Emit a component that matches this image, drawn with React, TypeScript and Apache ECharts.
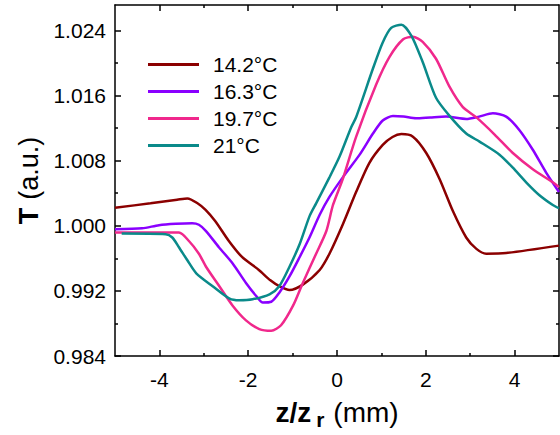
import React, { useEffect, useRef } from "react";
import * as echarts from "echarts";

const FONT = "'Liberation Sans', Arial, sans-serif";

const seriesNames = ["14.2°C", "16.3°C", "19.7°C", "21°C"];
const seriesColors = ["#8B0000", "#8A00FF", "#F0288C", "#0A8A8A"];

const x142 = [-5, -4.2, -3.6, -3.37, -3.15, -2.96, -2.74, -2.44, -2.14, -1.76, -1.5, -1.3, -1.07, -0.77, -0.39, -0.17, 0.13, 0.43, 0.73, 1.03, 1.25, 1.45, 1.71, 2.01, 2.31, 2.61, 2.91, 3.14, 3.36, 3.81, 5];
const y142 = [1.0022, 1.00276, 1.00319, 1.00335, 1.0028, 1.00195, 1.00055, 0.99816, 0.99617, 0.99457, 0.9933, 0.99258, 0.9921, 0.99277, 0.99457, 0.99657, 1.00016, 1.00414, 1.00773, 1.00993, 1.0109, 1.01125, 1.01093, 1.00893, 1.00574, 1.0018, 0.99856, 0.99716, 0.99657, 0.99665, 0.99756];

const x163 = [-5, -4.39, -4.01, -3.63, -3.26, -3.11, -2.95, -2.66, -2.35, -2.05, -1.82, -1.67, -1.48, -1.3, -1.07, -0.84, -0.62, -0.39, -0.17, 0.13, 0.51, 0.81, 1.03, 1.26, 1.5, 1.78, 2.1, 2.46, 2.91, 3.2, 3.51, 3.81, 4.11, 4.41, 4.71, 5];
const y163 = [0.99956, 0.99968, 1.00007, 1.00024, 1.00031, 1.00012, 0.99935, 0.99737, 0.99537, 0.99298, 0.99138, 0.99058, 0.99067, 0.99178, 0.99378, 0.99617, 0.99856, 1.00135, 1.00354, 1.00594, 1.00873, 1.01132, 1.01292, 1.01347, 1.0134, 1.0132, 1.0133, 1.0134, 1.01311, 1.0134, 1.0138, 1.0134, 1.01173, 1.00933, 1.00653, 1.00414];

const x197 = [-5, -3.56, -3.34, -3.11, -2.95, -2.65, -2.35, -2.05, -1.75, -1.48, -1.26, -0.99, -0.77, -0.47, -0.24, -0.09, 0.13, 0.43, 0.88, 1.18, 1.49, 1.71, 1.93, 2.23, 2.53, 2.83, 3.14, 3.55, 3.96, 4.41, 4.86, 5];
const y197 = [0.99916, 0.99916, 0.99816, 0.99657, 0.99497, 0.99258, 0.99019, 0.98839, 0.98732, 0.98711, 0.98779, 0.99019, 0.99298, 0.99657, 0.99936, 1.00255, 1.00574, 1.01092, 1.0173, 1.0207, 1.02289, 1.02321, 1.02257, 1.0205, 1.0171, 1.0146, 1.0133, 1.0112, 1.00893, 1.00694, 1.00534, 1.00474];

const x21 = [-4.85, -3.86, -3.71, -3.56, -3.37, -3.17, -2.8, -2.42, -2.2, -1.9, -1.52, -1.3, -1.07, -0.84, -0.62, -0.47, -0.17, 0.06, 0.32, 0.43, 0.81, 1.03, 1.22, 1.45, 1.68, 1.93, 2.23, 2.53, 2.91, 3.21, 3.66, 3.96, 4.26, 4.56, 4.86, 5];
const y21 = [0.99904, 0.99896, 0.99856, 0.99737, 0.99576, 0.99417, 0.99258, 0.99106, 0.99086, 0.99098, 0.99158, 0.99258, 0.99497, 0.99776, 1.00115, 1.00275, 1.00594, 1.00853, 1.0121, 1.01332, 1.0193, 1.0225, 1.02429, 1.02469, 1.02329, 1.0201, 1.01571, 1.01352, 1.01132, 1.01033, 1.00873, 1.00713, 1.00534, 1.00375, 1.00255, 1.00215];

const xMajor = [-4, -2, 0, 2, 4];
const xMinor = [-3, -1, 1, 3];
const yMajor = [0.984, 0.992, 1.0, 1.008, 1.016, 1.024];
const yMinor = [0.988, 0.996, 1.004, 1.012, 1.02];

const X_MIN = -5;
const X_MAX = 5;
const Y_MIN = 0.984;
const Y_MAX = 1.0271;

const allX = [x142, x163, x197, x21];
const allY = [y142, y163, y197, y21];

export default function App() {
  const ref = useRef<HTMLDivElement>(null);
  useEffect(() => {
    if (!ref.current) return;
    const chart = echarts.init(ref.current, undefined, { renderer: "svg" });
    const line = { color: "#000", width: 1.5 };
    const xAx = (position: string, ticks: number[], len: number, showLine: boolean, extra: any = {}) => ({
      type: "value",
      position,
      min: X_MIN,
      max: X_MAX,
      axisLine: { show: showLine, onZero: false, lineStyle: line },
      axisTick: { show: true, inside: true, length: len, customValues: ticks, lineStyle: line },
      axisLabel: { show: false },
      splitLine: { show: false },
      ...extra,
    });
    const yAx = (position: string, ticks: number[], len: number, showLine: boolean, extra: any = {}) => ({
      type: "value",
      position,
      min: Y_MIN,
      max: Y_MAX,
      axisLine: { show: showLine, onZero: false, lineStyle: line },
      axisTick: { show: true, inside: true, length: len, customValues: ticks, lineStyle: line },
      axisLabel: { show: false },
      splitLine: { show: false },
      ...extra,
    });
    chart.setOption({
      animation: false,
      backgroundColor: "#fff",
      grid: { left: 115, right: 1, top: 5, bottom: 70, containLabel: false },
      legend: {
        orient: "vertical",
        left: 148,
        top: 54,
        padding: 0,
        itemWidth: 51,
        itemHeight: 3,
        itemGap: 6,
        icon: "rect",
        data: seriesNames,
        textStyle: { fontSize: 21, color: "#000", fontFamily: FONT, lineHeight: 21, padding: [0, 0, 0, 9] },
      },
      xAxis: [
        xAx("bottom", xMajor, 6, true, {
          axisLabel: { show: true, customValues: xMajor, fontSize: 21, color: "#000", fontFamily: FONT, margin: 13 },
          name: "{b|z/z}{s|r}{n|(mm)}",
          nameLocation: "middle",
          nameGap: 34,
          nameTextStyle: {
            fontFamily: FONT,
            color: "#000",
            rich: {
              b: { fontSize: 28, fontWeight: "bold", lineHeight: 30, fontFamily: FONT, color: "#000" },
              s: { fontSize: 21, fontWeight: "bold", lineHeight: 20, padding: [14, 9, 0, 5], fontFamily: FONT, color: "#000" },
              n: { fontSize: 28, lineHeight: 30, fontFamily: FONT, color: "#000" },
            },
          },
        }),
        xAx("bottom", xMinor, 3, false),
        xAx("top", xMajor, 6, true),
        xAx("top", xMinor, 3, false),
      ],
      yAxis: [
        yAx("left", yMajor, 6, true, {
          axisLabel: {
            show: true,
            customValues: yMajor,
            fontSize: 21,
            color: "#000",
            fontFamily: FONT,
            margin: 9,
            formatter: (v: number) => v.toFixed(3),
          },
          name: "{b|T}{n|(a.u.)}",
          nameLocation: "middle",
          nameRotate: 90,
          nameGap: 73,
          nameTextStyle: {
            fontFamily: FONT,
            color: "#000",
            rich: {
              b: { fontSize: 27, fontWeight: "bold", padding: [0, 8, 0, 0], fontFamily: FONT, color: "#000" },
              n: { fontSize: 27, fontFamily: FONT, color: "#000" },
            },
          },
        }),
        yAx("left", yMinor, 3, false),
        yAx("right", yMajor, 6, true),
        yAx("right", yMinor, 3, false),
      ],
      series: seriesNames.map((name, i) => ({
        name,
        type: "line",
        xAxisIndex: 0,
        yAxisIndex: 0,
        data: allX[i].map((x, j) => [x, allY[i][j]]),
        showSymbol: false,
        symbol: "none",
        smooth: 0.25,
        color: seriesColors[i],
        lineStyle: { width: 2.5, color: seriesColors[i] },
      })),
    });
    return () => chart.dispose();
  }, []);
  return <div ref={ref} style={{ position: "absolute", left: 0, top: 0, width: 560, height: 435 }} />;
}
